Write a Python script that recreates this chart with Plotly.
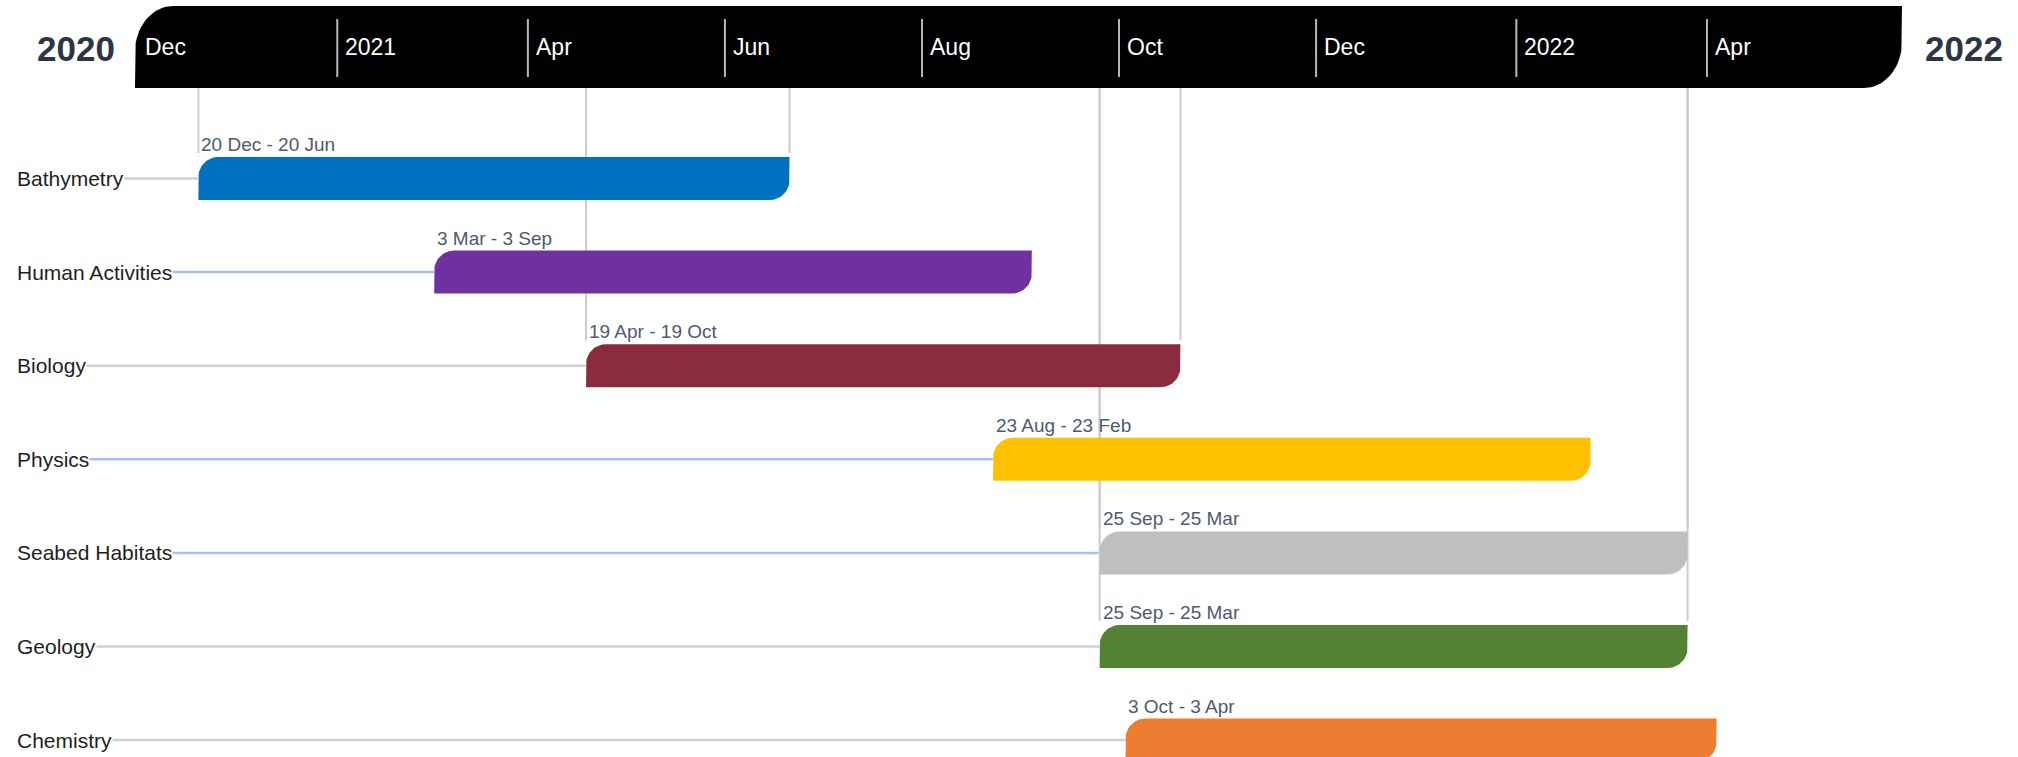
import numpy as np
import pandas as pd
import plotly.graph_objects as go

# ---------------- data ----------------
tasks = ["Bathymetry", "Human Activities", "Biology", "Physics",
         "Seabed Habitats", "Geology", "Chemistry"]
starts = ["2020-12-20", "2021-03-03", "2021-04-19", "2021-08-23",
          "2021-09-25", "2021-09-25", "2021-10-03"]
ends = ["2021-06-20", "2021-09-03", "2021-10-19", "2022-02-23",
        "2022-03-25", "2022-03-25", "2022-04-03"]
connector_tasks = ["Bathymetry", "Biology", "Seabed Habitats", "Geology"]

tick_dates = ["2020-12-01", "2021-02-01", "2021-04-01", "2021-06-01", "2021-08-01",
              "2021-10-01", "2021-12-01", "2022-02-01", "2022-04-01"]
tick_labels = ["Dec", "2021", "Apr", "Jun", "Aug", "Oct", "Dec", "2022", "Apr"]
axis_start, axis_end = "2020-12-01", "2022-06-01"
year_start_label, year_end_label = "2020", "2022"

# ---------------- styles ----------------
bar_colors = ["#0070c0", "#7030a0", "#8b2c3e", "#ffc000", "#bfbfbf", "#548235", "#ed7d31"]
GRAY = "#d0d0d0"
BLUE = "#a9c1ea"
guide_colors = [GRAY, BLUE, GRAY, BLUE, BLUE, GRAY, GRAY]
FONT = "Liberation Sans, Arial, sans-serif"

W, H = 2018, 757
AXIS_PX0, AXIS_PX1 = 137, 1904           # pixel positions of axis_start / axis_end
HEADER_PX0, HEADER_PX1 = 135, 1902       # pixel span of the black header band
ROW0_PX, ROW_STEP = 178.5, 93.6          # first row centre / row spacing (px)
LABEL_PX = 16

t_start = pd.Timestamp(axis_start)
t_end = pd.Timestamp(axis_end)
span_days = (t_end - t_start) / pd.Timedelta(days=1)
ppd = (AXIS_PX1 - AXIS_PX0) / span_days   # pixels per day
ONE_DAY = pd.Timedelta(days=1)            # end dates are inclusive


def px_to_time(px):
    return t_start + pd.to_timedelta((px - AXIS_PX0) / ppd, unit="D")


def py(px):
    return (px - ROW0_PX) / ROW_STEP


def rounded_shape(x0, x1, yt, yb, rx_px, ry_px):
    """polygon with rounded top-left and bottom-right corners"""
    rx = rx_px / ppd
    ry = ry_px / ROW_STEP
    d = (x1 - x0) / pd.Timedelta(days=1)
    th = np.linspace(0, np.pi / 2, 18)
    xs = ([0, 0] + list(rx - rx * np.cos(th)) + [d, d]
          + list(d - rx + rx * np.cos(th)) + [0])
    ys = ([yb, yt + ry] + list(yt + ry - ry * np.sin(th)) + [yt, yb - ry]
          + list(yb - ry + ry * np.sin(th)) + [yb])
    return x0 + pd.to_timedelta(xs, unit="D"), ys


fig = go.Figure()

header_top, header_bot = py(6), py(88)
bar_half = 21.5 / ROW_STEP

# header band
hx, hy = rounded_shape(px_to_time(HEADER_PX0), px_to_time(HEADER_PX1),
                       header_top, header_bot, 38, 46)
fig.add_trace(go.Scatter(x=hx, y=hy, fill="toself", fillcolor="#000000",
                         mode="lines", line=dict(width=0), hoverinfo="skip",
                         showlegend=False))

# header tick lines
for td in tick_dates:
    t = pd.Timestamp(td)
    if t <= t_start:
        continue
    fig.add_trace(go.Scatter(x=[t, t], y=[py(19), py(77)], mode="lines",
                             line=dict(color="#b8b8b8", width=2),
                             hoverinfo="skip", showlegend=False))

label_edge = px_to_time(LABEL_PX + 4)

# row guide lines
for i, (name, s) in enumerate(zip(tasks, starts)):
    fig.add_trace(go.Scatter(x=[label_edge, pd.Timestamp(s)], y=[i, i], mode="lines",
                             line=dict(color=guide_colors[i], width=2.5),
                             hoverinfo="skip", showlegend=False))

# vertical connectors from header to bars
for name in connector_tasks:
    i = tasks.index(name)
    for t in (pd.Timestamp(starts[i]), pd.Timestamp(ends[i]) + ONE_DAY):
        fig.add_trace(go.Scatter(x=[t, t], y=[header_bot, i - bar_half - 4 / ROW_STEP],
                                 mode="lines", line=dict(color="#cccccc", width=2),
                                 hoverinfo="skip", showlegend=False))

# bars
for i, (name, s, e) in enumerate(zip(tasks, starts, ends)):
    bx, by = rounded_shape(pd.Timestamp(s), pd.Timestamp(e) + ONE_DAY,
                           i - bar_half, i + bar_half, 20, 20)
    fig.add_trace(go.Scatter(x=bx, y=by, fill="toself", fillcolor=bar_colors[i],
                             mode="lines", line=dict(width=0), name=name,
                             hoverinfo="skip", showlegend=False))

annotations = []
# header tick labels
for td, lab in zip(tick_dates, tick_labels):
    annotations.append(dict(x=td, y=py(47), xref="x", yref="y", text=lab,
                            showarrow=False, xanchor="left", yanchor="middle",
                            xshift=6, font=dict(family=FONT, size=23, color="#ffffff")))
# year labels
annotations.append(dict(x=76 / W, y=py(48), xref="paper", yref="y", text=year_start_label,
                        showarrow=False, xanchor="center", yanchor="middle",
                        font=dict(family=FONT, size=35, color="#2d3545", weight="bold")))
annotations.append(dict(x=1964 / W, y=py(48), xref="paper", yref="y", text=year_end_label,
                        showarrow=False, xanchor="center", yanchor="middle",
                        font=dict(family=FONT, size=35, color="#2d3545", weight="bold")))
# category labels
for i, name in enumerate(tasks):
    annotations.append(dict(x=LABEL_PX / W, y=i, xref="paper", yref="y", text=name,
                            showarrow=False, xanchor="left", yanchor="middle",
                            bgcolor="#ffffff", borderpad=0,
                            font=dict(family=FONT, size=21, color="#1e1e1e")))
# bar labels
for i, (s, e) in enumerate(zip(starts, ends)):
    ts, te = pd.Timestamp(s), pd.Timestamp(e)
    txt = f"{ts.day} {ts.strftime('%b')} - {te.day} {te.strftime('%b')}"
    annotations.append(dict(x=s, y=i - bar_half, xref="x", yref="y", text=txt,
                            showarrow=False, xanchor="left", yanchor="bottom",
                            xshift=1,
                            font=dict(family=FONT, size=19, color="#4e5a6e")))

fig.update_layout(
    width=W, height=H,
    margin=dict(l=0, r=0, t=0, b=0),
    paper_bgcolor="#ffffff", plot_bgcolor="#ffffff",
    xaxis=dict(type="date", range=[px_to_time(0), px_to_time(W)], visible=False,
               showgrid=False, zeroline=False, fixedrange=True),
    yaxis=dict(range=[py(H), py(0)], visible=False, showgrid=False,
               zeroline=False, fixedrange=True),
    annotations=annotations,
    showlegend=False,
)

fig.write_html("out.html", config={"displayModeBar": False},
               post_script="document.body.style.margin='0px';document.body.style.overflow='hidden';")
